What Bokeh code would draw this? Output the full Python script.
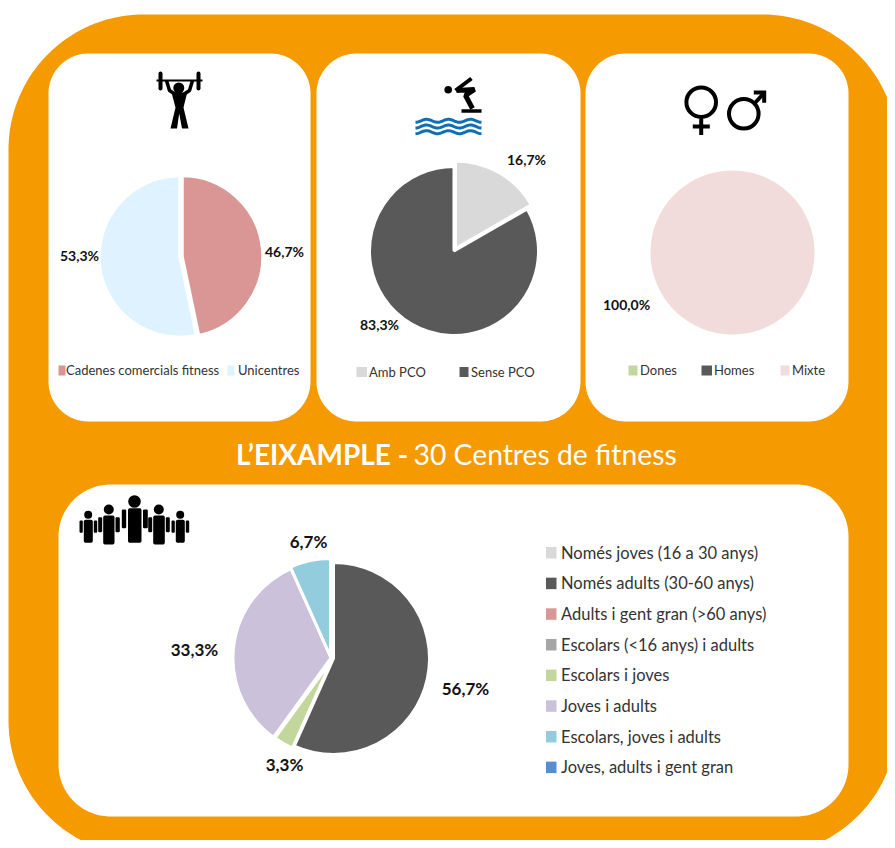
import numpy as np
from bokeh.plotting import figure
from bokeh.embed import file_html
from bokeh.resources import INLINE
from bokeh.core.properties import value

FONT = "Lato"
ORANGE = "#F59A00"

# ---- data ----
chain_labels = ["Cadenes comercials fitness", "Unicentres"]
chain_values = [46.7, 53.3]
chain_colors = ["#D99694", "#DFF2FF"]

pco_labels = ["Amb PCO", "Sense PCO"]
pco_values = [16.7, 83.3]
pco_colors = ["#D9D9D9", "#595959"]

gender_labels = ["Dones", "Homes", "Mixte"]
gender_values = [0.0, 0.0, 100.0]
gender_colors = ["#C3D69B", "#595959", "#F2DCDB"]

age_labels = ["Només joves (16 a 30 anys)", "Només adults (30-60 anys)",
              "Adults i  gent gran (>60 anys)", "Escolars (<16 anys)  i adults",
              "Escolars i joves", "Joves i adults", "Escolars, joves i adults",
              "Joves, adults  i gent gran"]
age_values = [0.0, 56.7, 0.0, 0.0, 3.3, 33.3, 6.7, 0.0]
age_colors = ["#D9D9D9", "#595959", "#D99694", "#A6A6A6", "#C3D69B", "#CCC1DA", "#93CDDD", "#558ED5"]

title_bold = "L’EIXAMPLE -"
title_rest = "30 Centres  de fitness"

p = figure(width=887, height=840, x_range=(0, 887), y_range=(840, 0),
           output_backend="svg", toolbar_location=None, min_border=0,
           background_fill_color="white", border_fill_color="white", outline_line_color=None)
p.xaxis.visible = False
p.yaxis.visible = False
p.xgrid.visible = False
p.ygrid.visible = False


def rrect(l, t, r, b, rad, color):
    xs, ys = [], []
    for cx, cy, a0 in [(r - rad, t + rad, -90), (r - rad, b - rad, 0), (l + rad, b - rad, 90), (l + rad, t + rad, 180)]:
        a = np.radians(np.linspace(a0, a0 + 90, 40))
        xs += list(cx + rad * np.cos(a))
        ys += list(cy + rad * np.sin(a))
    p.patch(xs, ys, fill_color=color, line_color=None)


rrect(8, 14, 897, 855, 135, ORANGE)
rrect(48, 53, 310, 421, 40, "white")
rrect(316, 53, 580, 421, 40, "white")
rrect(585, 53, 848, 421, 40, "white")
rrect(58, 484, 848, 816, 52, "white")


def pie(values, colors, centers, radius, label_pos, size, lw=3.0):
    """Slices run clockwise from 12 o'clock; centers holds one (slightly exploded) centre per slice."""
    total = sum(values)
    cum = 0.0
    k = 0
    for v, c in zip(values, colors):
        if v <= 0:
            continue
        top = np.pi / 2 - 2 * np.pi * cum / total
        cum += v
        bot = np.pi / 2 - 2 * np.pi * cum / total
        if v >= total:
            bot += 1e-4
        cx, cy = centers[k]
        rad = radius[k]
        p.wedge(x=[cx], y=[cy], radius=[rad], start_angle=[bot], end_angle=[top],
                fill_color=c, line_color=None if v >= total else "white", line_width=lw)
        lx, ly = label_pos[k]
        p.text(x=[lx], y=[ly], text=[f"{v:.1f}".replace(".", ",") + "%"], text_font=value(FONT),
               text_font_style="bold", text_font_size=f"{size}px", text_color="#111111",
               text_align="center", text_baseline="middle")
        k += 1


pie(chain_values, chain_colors, [(181.5, 256), (179.5, 256)], [81, 81], [(284, 251), (79, 255)], 14, 3.5)
pie(pco_values, pco_colors, [(455, 248), (453.5, 250.5)], [87.5, 84.5], [(526, 159), (379, 324)], 14, 3)
pie(gender_values, gender_colors, [(732, 252)], [82], [(626, 304)], 14, 2)
pie(age_values, age_colors, [(333, 658), (331.5, 659), (330.5, 657.5), (330, 656)], [96, 97, 98, 98],
    [(465, 688), (284, 764), (194, 649), (308, 541)], 17, 3)


def legend(labels, colors, sx, sw, sy, sh, tx, ty, size):
    for l, c, x, w, y, t, yy in zip(labels, colors, sx, sw, sy, tx, ty):
        p.quad(left=[x], right=[x + w], top=[y], bottom=[y + sh], fill_color=c, line_color=None)
        p.text(x=[t], y=[yy], text=[l], text_font=value(FONT), text_font_size=f"{size}px",
               text_color="#333333", text_align="left", text_baseline="middle")


legend(chain_labels, chain_colors, [58, 227], [7, 7], [365, 365], 10, [65.5, 237.5], [369.5, 369.5], 13)
legend(pco_labels, pco_colors, [356, 459], [10.5, 9], [366.5, 366.5], 10, [368.5, 470.5], [371, 371], 13)
legend(gender_labels, gender_colors, [628, 701, 780], [9, 10.5, 9], [365, 365, 365], 10,
       [639.5, 713.5, 791.5], [369.5, 369.5, 369.5], 13)
rows = [552.2 + 30.66 * i for i in range(len(age_labels))]
legend(age_labels, age_colors, [545.5] * 8, [10.5] * 8, [r - 5.7 for r in rows], 11.5, [560.5] * 8, rows, 16.5)

# title
p.text(x=[235.5], y=[453.5], text=[title_bold], text_font=value(FONT), text_font_style="bold", text_font_size="28px",
       text_color="white", text_align="left", text_baseline="middle")
p.text(x=[413], y=[453.5], text=[title_rest], text_font=value(FONT), text_font_size="28.3px",
       text_color="white", text_align="left", text_baseline="middle")

K = "black"
# weightlifter icon
p.segment([156], [80], [202], [80], line_color=K, line_width=2)
p.segment([160, 198], [73, 73], [160, 198], [88, 88], line_color=K, line_width=4, line_cap="round")
p.circle([178.3], [87.5], radius=5.5, fill_color=K, line_color=None)
p.multi_line([[166, 169, 175], [192, 189, 183]], [[80, 90, 94], [80, 90, 94]], line_color=K, line_width=3.5)
p.patch([171, 186.7, 183, 188, 181.5, 178.7, 176.5, 170, 175], [92, 92, 107, 128, 128, 113, 128, 128, 107],
        fill_color=K, line_color=None)

# diver icon
p.circle([447.7], [89.3], radius=3.8, fill_color=K, line_color=None)
p.line([455, 471], [90, 78], line_color=K, line_width=4)
p.line([456, 474, 465, 472], [90, 89, 95, 108], line_color=K, line_width=5)
p.quad(left=[461], right=[481], top=[108.7], bottom=[112.3], fill_color=K, line_color=None)
wx = np.linspace(415, 481, 60)
for y0 in [120.3, 126, 131.7]:
    p.line(wx, y0 + 1.5 * np.cos((wx - 415) * 2 * np.pi / 22), line_color="#0F6FB5", line_width=3)

# gender icons
p.circle([700.7], [101.7], radius=14.8, fill_color=None, line_color=K, line_width=4)
p.segment([700.7, 692.3], [118, 126], [700.7, 709.3], [134.5, 126], line_color=K, line_width=4)
p.circle([743.3], [113.3], radius=14.8, fill_color=None, line_color=K, line_width=4)
p.segment([754], [103], [764], [92], line_color=K, line_width=4)
p.patch([753.3, 765.7, 765.7, 761.7, 761.7, 753.3], [90, 90, 102.3, 102.3, 94, 94], fill_color=K, line_color=None)

# people icon: head (x, y, r), torso (l, r, t, b), arms (l1, r1, l2, r2, t, b)
for hx, hy, hr, tl, tr, tt, tb, a1, a2, a3, a4, at, ab in [
    (87.7, 514.3, 4, 83.3, 92.3, 519.3, 542.3, 79, 82.3, 93.3, 96.7, 520, 532.3),
    (108.3, 509, 5, 102.7, 114, 515, 544, 97.7, 101.7, 115, 119.3, 516.7, 531.7),
    (134, 501, 6.3, 127.5, 141, 507.7, 542.3, 121.3, 125.7, 142.5, 147.3, 509, 527.7),
    (158.3, 509, 5, 152.7, 164.3, 515, 544, 147.7, 151.7, 165.3, 169.3, 516.7, 531.7),
    (179.7, 514.3, 4, 175.3, 184.3, 519.3, 542.3, 171, 174.3, 185.3, 188.7, 520, 532.3),
]:
    p.circle([hx], [hy], radius=hr, fill_color=K, line_color=None)
    rrect(tl, tt, tr, tb, 2, K)
    rrect(a1, at, a2, ab, 1.2, K)
    rrect(a3, at, a4, ab, 1.2, K)

open("out.html", "w").write(file_html(p, INLINE))
